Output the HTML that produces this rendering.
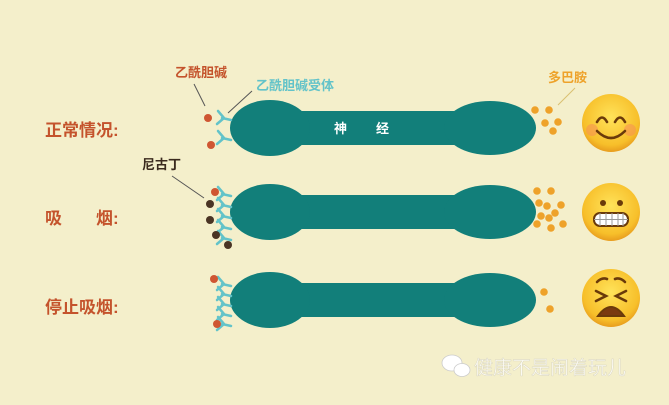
<!DOCTYPE html>
<html><head><meta charset="utf-8"><style>
html,body{margin:0;padding:0}
body{width:669px;height:400px;background:#f4efcb;overflow:hidden;font-family:"Liberation Sans","Noto Sans CJK SC",sans-serif}
</style></head><body>
<svg width="669" height="400" viewBox="0 0 669 400" xmlns="http://www.w3.org/2000/svg" font-family="Liberation Sans, Noto Sans CJK SC, sans-serif">
<rect width="669" height="400" fill="#f4efcb"/>
<defs>
<g id="neuron">
<rect x="290" y="-17" width="180" height="34" fill="#127f7a"/>
<ellipse cx="270" cy="0" rx="40" ry="28" fill="#127f7a"/>
<ellipse cx="490" cy="0" rx="46" ry="27" fill="#127f7a"/>
</g>
<g id="rec" stroke="#63c3c9" stroke-width="2.5" fill="none" stroke-linecap="round">
<path d="M231 0 L222 -2 M224 -2 L218 -9 M224 -2 L217 4"/>
</g>
</defs>
<use href="#neuron" y="128"/>
<use href="#neuron" y="212"/>
<use href="#neuron" y="300"/>
<use href="#rec" y="120"/><use href="#rec" y="140"/>
<use href="#rec" y="196"/><use href="#rec" y="207"/><use href="#rec" y="218"/><use href="#rec" y="229"/><use href="#rec" y="240"/>
<use href="#rec" y="286"/><use href="#rec" y="296"/><use href="#rec" y="306"/><use href="#rec" y="316"/><use href="#rec" y="326"/>
<g fill="#cf5632">
<circle cx="208" cy="118" r="4"/><circle cx="211" cy="145" r="4"/>
<circle cx="215" cy="192" r="4"/>
<circle cx="214" cy="279" r="4"/><circle cx="217" cy="324" r="4"/>
</g>
<g fill="#4a3424">
<circle cx="210" cy="204" r="4"/><circle cx="210" cy="220" r="4"/><circle cx="216" cy="235" r="4"/><circle cx="228" cy="245" r="4"/>
</g>
<g stroke="#555" stroke-width="1" fill="none">
<line x1="194" y1="84" x2="205" y2="106"/>
<line x1="228" y1="113" x2="252" y2="91"/>
<line x1="172" y1="176" x2="204" y2="198"/>
<line x1="575" y1="88" x2="558" y2="105" stroke="#d9c070"/>
</g>
<g fill="#eea22a">
<circle cx="535" cy="110" r="3.8"/><circle cx="549" cy="110" r="3.8"/><circle cx="545" cy="123" r="3.8"/><circle cx="558" cy="122" r="3.8"/><circle cx="553" cy="131" r="3.8"/>
<circle cx="537" cy="191" r="3.8"/><circle cx="551" cy="191" r="3.8"/><circle cx="539" cy="203" r="3.8"/><circle cx="547" cy="206" r="3.8"/><circle cx="561" cy="205" r="3.8"/><circle cx="555" cy="213" r="3.8"/><circle cx="541" cy="216" r="3.8"/><circle cx="549" cy="218" r="3.8"/><circle cx="537" cy="224" r="3.8"/><circle cx="551" cy="228" r="3.8"/><circle cx="563" cy="224" r="3.8"/>
<circle cx="544" cy="292" r="3.8"/><circle cx="550" cy="309" r="3.8"/>
</g>
<defs><radialGradient id="eg" cx="50%" cy="40%" r="60%"><stop offset="0" stop-color="#ffe35a"/><stop offset="0.8" stop-color="#f7bf2a"/><stop offset="1" stop-color="#e89d1e"/></radialGradient></defs>
<circle cx="611" cy="123" r="29" fill="url(#eg)"/>
<circle cx="592" cy="130" r="6" fill="#f58a5a" opacity="0.5"/><circle cx="630" cy="130" r="6" fill="#f58a5a" opacity="0.5"/>
<g stroke="#6a3a0a" stroke-width="2.6" fill="none" stroke-linecap="round">
<path d="M597 122 q5 -9 10 0 M615 122 q5 -9 10 0"/>
<path d="M597 131 q14 14 28 0"/>
</g>
<circle cx="611" cy="212" r="29" fill="url(#eg)"/>
<circle cx="603" cy="203" r="3" fill="#6a3a0a"/><circle cx="620" cy="203" r="3" fill="#6a3a0a"/>
<rect x="594" y="213" width="34" height="13" rx="6" fill="#fff" stroke="#6a3a0a" stroke-width="2"/>
<path d="M594 219.5 H628 M600 213 V226 M606 213 V226 M612 213 V226 M618 213 V226 M623 213 V226" stroke="#999" stroke-width="1"/>
<circle cx="611" cy="298" r="29" fill="url(#eg)"/>
<g stroke="#6a3a0a" stroke-width="2.6" fill="none" stroke-linecap="round">
<path d="M596 291 l10 5 l-10 5 M626 291 l-10 5 l10 5 M597 282 q5 -5 10 -3 M625 282 q-5 -5 -10 -3"/>
</g>
<path d="M598 316 q13 -18 26 0 z" fill="#7a3a10" stroke="#6a3a0a" stroke-width="2"/>
<g font-weight="bold" font-size="17" fill="#c4532c">
<text x="45" y="136">正常情况:</text>
<text x="45" y="224">吸</text><text x="96" y="224">烟:</text>
<text x="45" y="313">停止吸烟:</text>
</g>
<text x="175" y="77" font-size="13" font-weight="bold" fill="#c4532c">乙酰胆碱</text>
<text x="256" y="90" font-size="13" font-weight="bold" fill="#63c3c9">乙酰胆碱受体</text>
<text x="142" y="169" font-size="13" font-weight="bold" fill="#3a2a1e">尼古丁</text>
<text x="548" y="82" font-size="13" font-weight="bold" fill="#eea22a">多巴胺</text>
<text x="334" y="133" font-size="13" font-weight="bold" fill="#fff">神</text>
<text x="376" y="133" font-size="13" font-weight="bold" fill="#fff">经</text>
<g fill="#fff" stroke="#ccc" stroke-width="0.8">
<ellipse cx="452" cy="363" rx="10" ry="8"/><ellipse cx="462" cy="370" rx="8" ry="6.5"/>
</g>
<text x="474" y="374" font-size="19" fill="#fbfaf2" stroke="#d6d2bc" stroke-width="0.4">健康不是闹着玩儿</text>
</svg>
</body></html>
